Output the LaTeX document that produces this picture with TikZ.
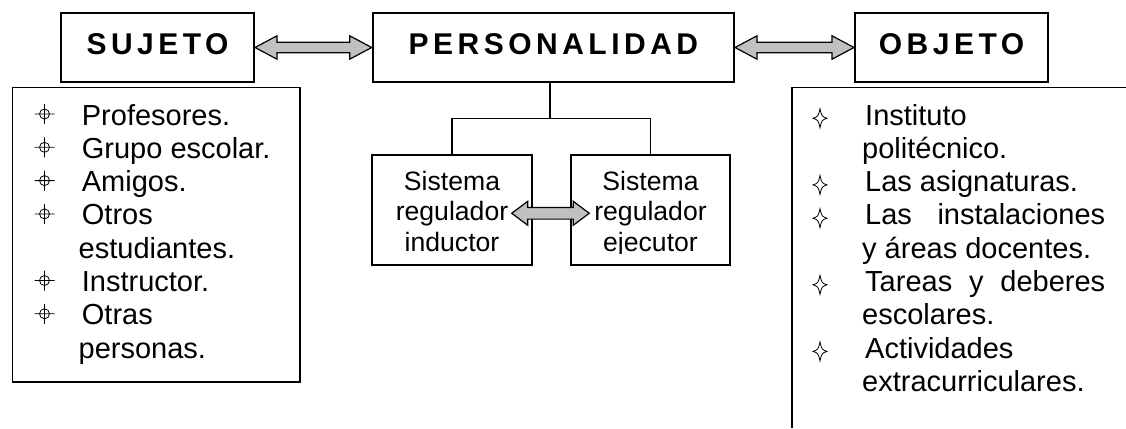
\documentclass[tikz,border=0pt]{standalone}
\usepackage{fontspec}
\setmainfont{Liberation Sans}
\newfontfamily\titlefont[LetterSpace=15]{Liberation Sans Bold}
\usetikzlibrary{calc}
\definecolor{arrowgray}{HTML}{C0C0C0}
\newcommand\fatarrow[5]{%
  \draw[fatarr] let \p1=(#1), \p2=(#2) in
    (\x1,\y1) -- (\x1+#5,\y1+#4) -- (\x1+#5,\y1+#3) -- (\x2-#5,\y1+#3) -- (\x2-#5,\y1+#4)
    -- (\x2,\y1) -- (\x2-#5,\y1-#4) -- (\x2-#5,\y1-#3) -- (\x1+#5,\y1-#3) -- (\x1+#5,\y1-#4) -- cycle;}
\newcommand\crossbul[1]{%
  \draw[bul] (#1) circle[radius=5pt] ($(#1)+(-10,0)$) -- ($(#1)+(10,0)$) ($(#1)+(0,-10)$) -- ($(#1)+(0,10)$);}
\newcommand\starbul[1]{%
  \draw[bul] ($(#1)+(0,-9.5)$) .. controls ($(#1)+(1.8,-1.8)$) .. ($(#1)+(7,0)$)
    .. controls ($(#1)+(1.8,1.8)$) .. ($(#1)+(0,9.5)$)
    .. controls ($(#1)+(-1.8,1.8)$) .. ($(#1)+(-7,0)$)
    .. controls ($(#1)+(-1.8,-1.8)$) .. ($(#1)+(0,-9.5)$) -- cycle;}
\begin{document}
\begin{tikzpicture}[x=1pt,y=-1pt,
  titlebox/.style={draw, line width=2pt, minimum height=68.4pt, inner sep=0pt, text height=22pt, text depth=7pt, font=\titlefont\fontsize{30}{36}\selectfont},
  smallbox/.style={draw, line width=1.5pt, minimum width=160pt, minimum height=110pt, inner sep=0pt},
  listtext/.style={anchor=base west, inner sep=0pt, font=\fontsize{29}{33.3}\selectfont},
  boxtext/.style={anchor=base, inner sep=0pt, font=\fontsize{26.6}{30.6}\selectfont},
  conn/.style={line width=1.5pt},
  listframe/.style={line width=1.6pt},
  fatarr/.style={fill=arrowgray, draw=black, line width=1.2pt, line join=miter},
  bul/.style={line width=0.8pt, draw=black}
]
\useasboundingbox (0,0) rectangle (1126,428);

% top boxes
\node[titlebox, minimum width=193pt] (suj) at (157.5,47.5) {SUJETO};
\node[titlebox, minimum width=361.3pt] (pers) at (553.35,47.5) {PERSONALIDAD};
\node[titlebox, minimum width=193pt] (obj) at (951.5,47.5) {OBJETO};

\fatarrow{suj.east}{pers.west}{5.3pt}{11.7pt}{22pt}
\fatarrow{pers.east}{obj.west}{5.3pt}{11.7pt}{22pt}

% small boxes
\node[smallbox] (ind) at (452,210) {};
\node[smallbox, minimum width=159pt] (eje) at (650.5,210) {};
\coordinate (jn) at (550,118.5);
\draw[conn] (pers.south -| jn) -- (jn);
\draw[conn] (ind.north) |- (jn) -| (eje.north);

\node[boxtext] (ind1) at (452,190) {Sistema};
\node[boxtext] (ind2) at (452,220.6) {regulador};
\node[boxtext] (ind3) at (452,251.2) {inductor};
\begin{scope}
  \clip (560,150) rectangle (740,253);
  \node[boxtext] (eje1) at (650.5,190) {Sistema};
  \node[boxtext] (eje2) at (650.5,220.6) {regulador};
  \node[boxtext] (eje3) at (650.5,251.2) {ejecutor};
\end{scope}

\coordinate (sa1) at ($(ind.east)+(-21,3.3)$);
\coordinate (sa2) at ($(eje.west)+(19,3.3)$);
\fatarrow{sa1}{sa2}{5.8pt}{12pt}{16pt}

% left list
\draw[listframe] (12.3,87.3) rectangle (300,382);
\node[listtext] (l1) at (81.7,125) {Profesores.};
\node[listtext] (l2) at (81.7,158.3) {Grupo escolar.};
\node[listtext] (l3) at (81.7,191.6) {Amigos.};
\node[listtext] (l4) at (81.7,224.9) {Otros};
\node[listtext] (l4b) at (78.5,258.2) {estudiantes.};
\node[listtext] (l5) at (81.7,291.5) {Instructor.};
\node[listtext] (l6) at (81.7,324.8) {Otras};
\node[listtext] (l6b) at (78.5,358.1) {personas.};
\crossbul{44.5,114}
\crossbul{44.5,147.3}
\crossbul{44.5,180.6}
\crossbul{44.5,213.9}
\crossbul{44.5,280.5}
\crossbul{44.5,313.8}

% right list
\draw[listframe] (1126,87.3) -- (791.7,87.3) -- (791.7,428);
\node[listtext] (r1) at (865,125) {Instituto};
\node[listtext] (r1b) at (862,158.3) {politécnico.};
\node[listtext] (r2) at (865,191.6) {Las asignaturas.};
\node[listtext] (r3) at (865,224.9) {\makebox[240pt][s]{Las instalaciones}};
\node[listtext] (r3b) at (862,258.2) {y áreas docentes.};
\node[listtext] (r4) at (865,291.5) {\makebox[240pt][s]{Tareas y deberes}};
\node[listtext] (r4b) at (862,324.8) {escolares.};
\node[listtext] (r5) at (865,358.1) {Actividades};
\node[listtext] (r5b) at (862,391.4) {extracurriculares.};
\starbul{820,118.3}
\starbul{820,184.9}
\starbul{820,218.2}
\starbul{820,284.8}
\starbul{820,351.4}
\end{tikzpicture}
\end{document}
